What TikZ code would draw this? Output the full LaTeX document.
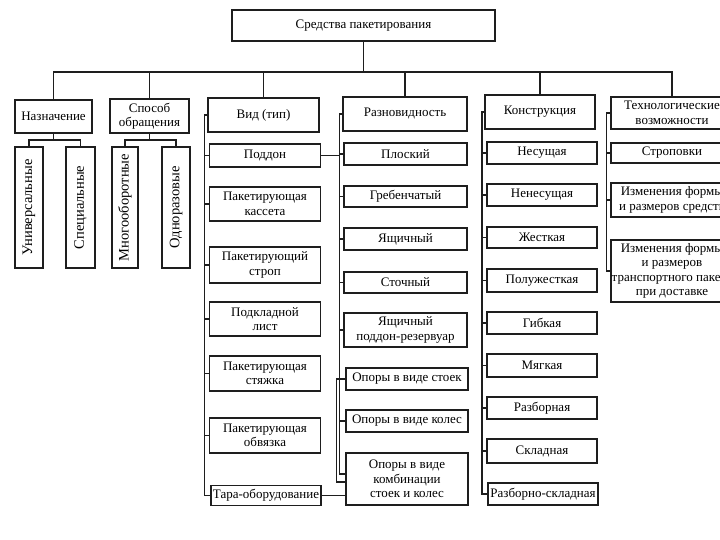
\documentclass[tikz,border=0pt]{standalone}
\usepackage{fontspec}
\setmainfont{Liberation Serif}
\definecolor{ink}{RGB}{30,30,30}
\begin{document}
\begin{tikzpicture}[x=1pt,y=-1pt,
  box/.style={draw=ink, line width=1.2pt, inner sep=0pt, align=center, text=black,
    font=\fontsize{13}{14.5}\selectfont},
  vbox/.style={box, font=\fontsize{14.5}{16}\selectfont},
  conn/.style={draw=ink, line width=1.2pt}]
\useasboundingbox (0,0) rectangle (720,540);
\clip (0,0) rectangle (720,540);
% root
\node[box, minimum width=263pt, minimum height=31pt] (top) at (363.5,25.5) {Средства пакетирования};
% level 2
\node[box,minimum width=77pt,minimum height=33pt] (naz) at (53.5,116.5) {Назначение};
\node[box,minimum width=79pt,minimum height=34pt] (spo) at (149.5,116) {Способ\\обращения};
\node[box,minimum width=111pt,minimum height=34pt] (vid) at (263.5,115) {Вид (тип)};
\node[box,minimum width=124pt,minimum height=34pt] (raz) at (405,114) {Разновидность};
\node[box,minimum width=110pt,minimum height=34pt] (kon) at (540,112) {Конструкция};
\node[box,minimum width=122pt,minimum height=32pt] (teh) at (672,113) {Технологические\\возможности};
% vertical boxes
\node[vbox,minimum width=28pt,minimum height=121pt] (uni) at (29,207.5) {\rotatebox{90}{Универсальные}};
\node[vbox,minimum width=29pt,minimum height=121pt] (spe) at (80.5,207.5) {\rotatebox{90}{Специальные}};
\node[vbox,minimum width=26pt,minimum height=121pt] (mno) at (125,207.5) {\rotatebox{90}{Многооборотные}};
\node[vbox,minimum width=28pt,minimum height=121pt] (odn) at (176,207.5) {\rotatebox{90}{Одноразовые}};
% Vid children
\node[box,minimum width=111pt,minimum height=23pt] (pod) at (265,155.5) {Поддон};
\node[box,minimum width=111pt,minimum height=34pt] (kas) at (265,204) {Пакетирующая\\кассета};
\node[box,minimum width=111pt,minimum height=36pt] (str) at (265,265) {Пакетирующий\\строп};
\node[box,minimum width=111pt,minimum height=34pt] (lis) at (265,319) {Подкладной\\лист};
\node[box,minimum width=111pt,minimum height=35pt] (stya) at (265,373.5) {Пакетирующая\\стяжка};
\node[box,minimum width=111pt,minimum height=35pt] (obv) at (265,435.5) {Пакетирующая\\обвязка};
\node[box,minimum width=110pt,minimum height=20pt] (tar) at (266,495.5) {Тара-оборудование};
% Razn children
\node[box,minimum width=123pt,minimum height=22pt] (plo) at (405.5,154) {Плоский};
\node[box,minimum width=123pt,minimum height=21pt] (gre) at (405.5,196.5) {Гребенчатый};
\node[box,minimum width=123pt,minimum height=22pt] (yas) at (405.5,239) {Ящичный};
\node[box,minimum width=123pt,minimum height=21pt] (sto) at (405.5,282.5) {Сточный};
\node[box,minimum width=123pt,minimum height=34pt] (rez) at (405.5,330) {Ящичный\\поддон-резервуар};
\node[box,minimum width=122pt,minimum height=22pt] (ost) at (407,379) {Опоры в виде стоек};
\node[box,minimum width=122pt,minimum height=22pt] (oko) at (407,421) {Опоры в виде колес};
\node[box,minimum width=122pt,minimum height=52pt] (okm) at (407,479) {Опоры в виде\\комбинации\\стоек и колес};
% Konstr children
\node[box,minimum width=110pt,minimum height=22pt] (nes) at (542,153) {Несущая};
\node[box,minimum width=110pt,minimum height=22pt] (nen) at (542,195) {Ненесущая};
\node[box,minimum width=110pt,minimum height=21pt] (zhe) at (542,237.5) {Жесткая};
\node[box,minimum width=110pt,minimum height=23pt] (pol) at (542,280.5) {Полужесткая};
\node[box,minimum width=110pt,minimum height=22pt] (gib) at (542,323) {Гибкая};
\node[box,minimum width=110pt,minimum height=23pt] (mya) at (542,365.5) {Мягкая};
\node[box,minimum width=110pt,minimum height=22pt] (rzb) at (542,408) {Разборная};
\node[box,minimum width=110pt,minimum height=24pt] (skl) at (542,451) {Складная};
\node[box,minimum width=110pt,minimum height=22pt] (rsk) at (543,494) {Разборно-складная};
% Tech children
\node[box,minimum width=122pt,minimum height=20pt] (strp) at (672,153) {Строповки};
\node[box,minimum width=122pt,minimum height=34pt] (izm1) at (672,200) {Изменения формы\\и размеров средств};
\node[box,minimum width=122pt,minimum height=62pt] (izm2) at (672,271) {Изменения формы\\и размеров\\транспортного пакета\\при доставке};
% helper coordinates
\coordinate (bus) at (363.5,72);
\coordinate (nb) at (0,140);
\coordinate (y474) at (0,474);
\coordinate (y482) at (0,482);
% root bus
\draw[conn] (top.south) -- (bus);
\draw[conn] (naz.north) -- (naz.north |- bus) -- (teh.north |- bus) -- (teh.north);
\foreach \n in {spo,vid,raz,kon} \draw[conn] (\n.north) -- (\n.north |- bus);
% Naznachenie and Sposob
\draw[conn] (naz.south) -- (naz.south |- nb);
\draw[conn] (uni.north) |- (naz.south |- nb) -| (spe.north);
\draw[conn] (spo.south) -- (spo.south |- nb);
\draw[conn] (mno.north) |- (spo.south |- nb) -| (odn.north);
% Vid spine
\draw[conn] (vid.west) -- ++(-3,0) coordinate (vs) |- (tar.west);
\foreach \n in {pod,kas,str,lis,stya,obv} \draw[conn] (\n.west) -- (\n.west -| vs);
% Razn spine
\draw[conn] (raz.west) -- ++(-3,0) coordinate (rs) -- (rs |- y474) -- (okm.west |- y474);
\foreach \n in {plo,gre,yas,sto,rez,oko} \draw[conn] (\n.west) -- (\n.west -| rs);
\draw[conn] (ost.west) -- ++(-9,0) coordinate (rs2) -- (rs2 |- y482) -- (okm.west |- y482);
\draw[conn] (pod.east) -- (pod.east -| rs);
\draw[conn] (tar.east) -- (tar.east -| okm.west);
% Konstr spine
\draw[conn] (kon.west) -- ++(-2.5,0) coordinate (ks) |- (rsk.west);
\foreach \n in {nes,nen,zhe,pol,gib,mya,rzb,skl} \draw[conn] (\n.west) -- (\n.west -| ks);
% Tech spine
\draw[conn] (teh.west) -- ++(-4,0) coordinate (ts) |- (izm2.west);
\foreach \n in {strp,izm1} \draw[conn] (\n.west) -- (\n.west -| ts);
\end{tikzpicture}
\end{document}
